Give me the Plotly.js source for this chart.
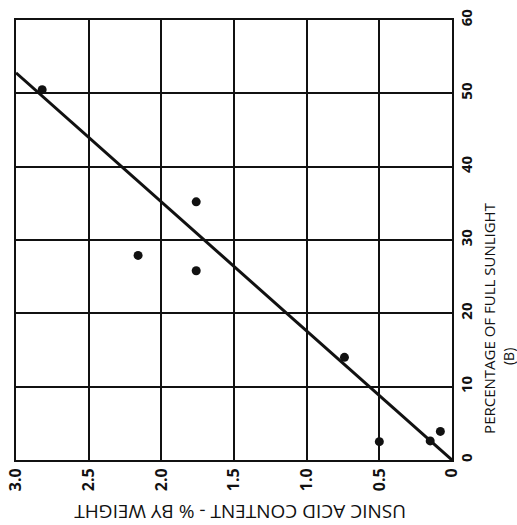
<!DOCTYPE html>
<html>
<head>
<script src="https://cdn.plot.ly/plotly-3.0.1.min.js"></script>
<style>html,body{margin:0;padding:0;background:#fff;}</style>
</head>
<body>
<div id="chart" style="width:517px;height:525px;"></div>
<script>
// Usnic acid content (% by weight) and percentage of full sunlight
var usnic = [2.82, 1.76, 2.16, 1.76, 0.74, 0.50, 0.15, 0.08];
var sunlight = [50.5, 35.2, 27.9, 25.8, 14.0, 2.5, 2.6, 3.9];
// Fitted line end points
var fitUsnic = [3.0, 0.0];
var fitSunlight = [52.8, 0.0];
var xTicks = [3.0, 2.5, 2.0, 1.5, 1.0, 0.5, 0];
var xTickText = ['3.0', '2.5', '2.0', '1.5', '1.0', '0.5', '0'];
var yTicks = [0, 10, 20, 30, 40, 50, 60];

var fam = 'Open Sans, DejaVu Sans, sans-serif';
var xTickFont = {family: fam, size: 16, color: '#111', weight: 'bold'};
var yTickFont = {family: fam, size: 15, color: '#111', weight: 'bold'};

var traces = [
  {x: fitUsnic, y: fitSunlight, mode: 'lines', type: 'scatter',
   line: {color: '#111', width: 3}, hoverinfo: 'skip'},
  {x: usnic, y: sunlight, mode: 'markers', type: 'scatter',
   marker: {color: '#111', size: 9}}
];

var layout = {
  width: 517, height: 525,
  margin: {l: 16, r: 65, t: 20, b: 65},
  paper_bgcolor: '#fff', plot_bgcolor: '#fff',
  showlegend: false,
  xaxis: {
    range: [3.0, 0], tickvals: xTicks, ticktext: xTickText,
    tickangle: -90, tickfont: xTickFont,
    showgrid: true, gridcolor: '#111', gridwidth: 2,
    zeroline: false, showline: true, linecolor: '#111', linewidth: 2,
    mirror: true, ticks: '', ticklen: 0
  },
  yaxis: {
    range: [0, 60], tickvals: yTicks, side: 'right',
    tickangle: -90, tickfont: yTickFont,
    showgrid: true, gridcolor: '#111', gridwidth: 2,
    zeroline: false, showline: true, linecolor: '#111', linewidth: 2,
    mirror: true, ticks: '', ticklen: 0
  },
  annotations: [
    {text: 'USNIC ACID CONTENT - % BY WEIGHT', xref: 'paper', yref: 'paper',
     x: 0.515, y: -0.117, xanchor: 'center', yanchor: 'middle', showarrow: false,
     textangle: 180, font: {family: fam, size: 19, color: '#111'}},
    {text: 'PERCENTAGE OF FULL SUNLIGHT', xref: 'paper', yref: 'paper',
     x: 1.0, xshift: 37, y: 0.323, xanchor: 'center', yanchor: 'middle', showarrow: false,
     textangle: -90, font: {family: fam, size: 15, color: '#111'}},
    {text: '(B)', xref: 'paper', yref: 'paper',
     x: 1.0, xshift: 56, y: 0.234, xanchor: 'center', yanchor: 'middle', showarrow: false,
     textangle: -90, font: {family: fam, size: 14, color: '#111'}}
  ]
};

Plotly.newPlot('chart', traces, layout, {displayModeBar: false, staticPlot: true});
</script>
</body>
</html>
